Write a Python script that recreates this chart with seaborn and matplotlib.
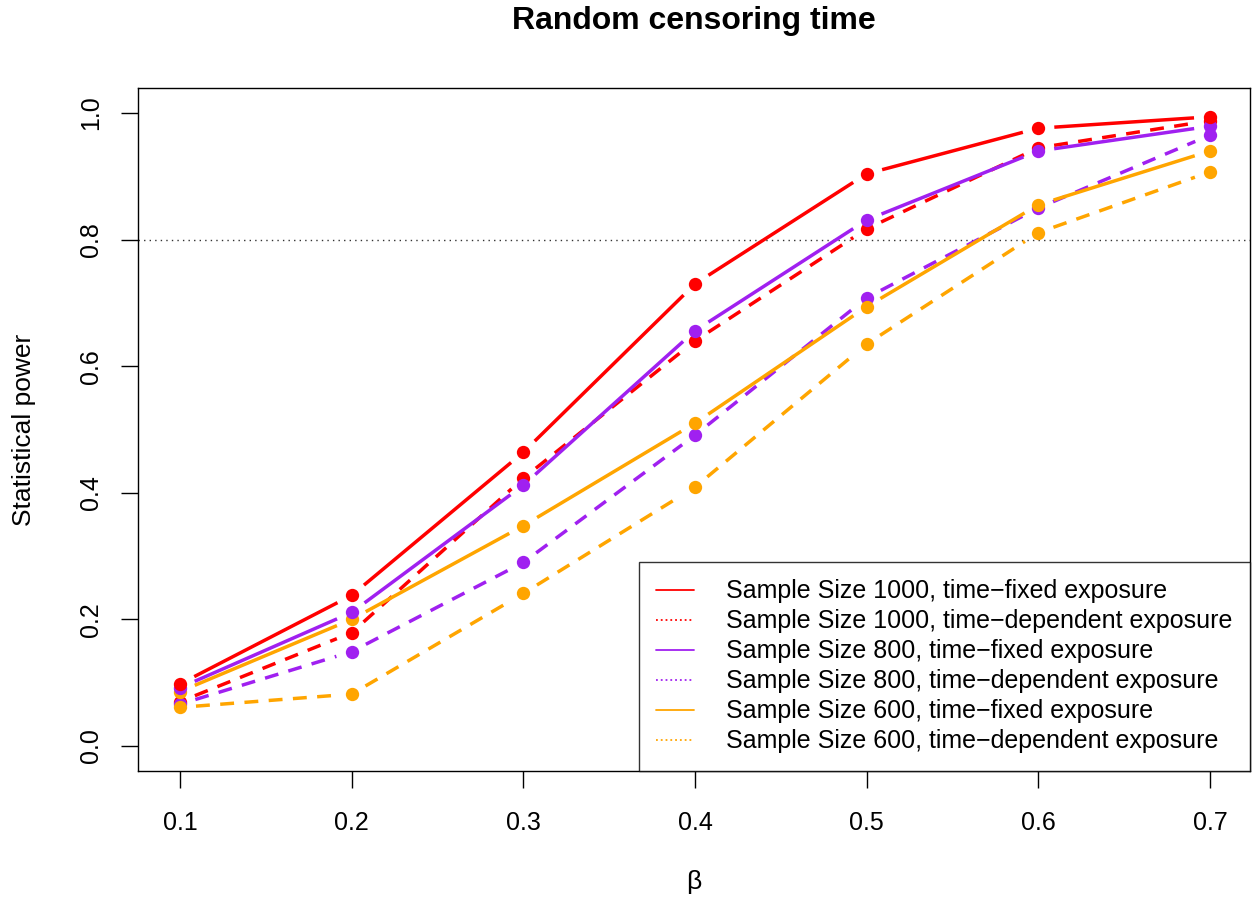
import numpy as np
import pandas as pd
import matplotlib
matplotlib.use("Agg")
import matplotlib.pyplot as plt
from matplotlib.lines import Line2D
import seaborn as sns

# --- data ---
beta = [0.1, 0.2, 0.3, 0.4, 0.5, 0.6, 0.7]
n1000_fixed = [0.098, 0.238, 0.464, 0.730, 0.904, 0.976, 0.994]
n1000_dep   = [0.070, 0.179, 0.423, 0.640, 0.817, 0.945, 0.988]
n800_fixed  = [0.092, 0.211, 0.412, 0.656, 0.831, 0.940, 0.979]
n800_dep    = [0.066, 0.149, 0.290, 0.491, 0.708, 0.850, 0.965]
n600_fixed  = [0.086, 0.200, 0.348, 0.510, 0.694, 0.855, 0.940]
n600_dep    = [0.061, 0.082, 0.241, 0.409, 0.635, 0.811, 0.907]

labels = [
    "Sample Size 1000, time\u2212fixed exposure",
    "Sample Size 1000, time\u2212dependent exposure",
    "Sample Size 800, time\u2212fixed exposure",
    "Sample Size 800, time\u2212dependent exposure",
    "Sample Size 600, time\u2212fixed exposure",
    "Sample Size 600, time\u2212dependent exposure",
]
colors = ["#FF0000", "#FF0000", "#A020F0", "#A020F0", "#FFA500", "#FFA500"]
series = [n1000_fixed, n1000_dep, n800_fixed, n800_dep, n600_fixed, n600_dep]
dashed = [False, True, False, True, False, True]
# draw order: dependent-exposure curves underneath, then 600, 800, 1000 fixed
zorders = [6, 3, 5, 3, 4, 3]

sns.set_style("ticks")
plt.rcParams["font.family"] = ["Liberation Sans", "DejaVu Sans"]
plt.rcParams["text.color"] = "black"
plt.rcParams["axes.labelcolor"] = "black"
plt.rcParams["xtick.color"] = "black"
plt.rcParams["ytick.color"] = "black"

fig = plt.figure(figsize=(12.52, 8.99), dpi=100)
ax = fig.add_axes([0.1102, 0.1424, 0.8882, 0.7597])
ax.set_xlim(0.0755, 0.7233)
ax.set_ylim(-0.0395, 1.0395)

GAP = 16  # px between point centre and line end, like R's type="b"
for vals, col, dsh, z in zip(series, colors, dashed, zorders):
    df = pd.DataFrame({"beta": beta, "power": vals})
    sns.scatterplot(data=df, x="beta", y="power", ax=ax, color=col, s=92,
                    linewidth=0, zorder=z)
    # line segments, shortened at both ends in screen space
    pix = ax.transData.transform(df[["beta", "power"]].to_numpy())
    for p0, p1 in zip(pix[:-1], pix[1:]):
        u = (p1 - p0) / np.hypot(*(p1 - p0))
        seg = ax.transData.inverted().transform([p0 + u * GAP, p1 - u * GAP])
        ax.plot(seg[:, 0], seg[:, 1], color=col, lw=2.5, zorder=z,
                linestyle=(0, (4, 3)) if dsh else "-", solid_capstyle="butt")

ax.axhline(0.8, color="#333333", lw=1, linestyle=(0, (1, 3)), zorder=1)

ax.set_xticks(beta)
ax.set_xticklabels([f"{b:.1f}" for b in beta])
ax.set_yticks([0.0, 0.2, 0.4, 0.6, 0.8, 1.0])
ax.set_yticklabels([f"{v:.1f}" for v in [0.0, 0.2, 0.4, 0.6, 0.8, 1.0]],
                   rotation=90, va="center")
ax.tick_params(labelsize=18, length=12, width=1, color="black")
ax.tick_params(axis="x", pad=17)
ax.tick_params(axis="y", pad=13)
for s in ax.spines.values():
    s.set_visible(True)
    s.set_linewidth(1)
    s.set_color("black")

ax.set_xlabel("\u03b2", fontsize=19)
ax.set_ylabel("Statistical power", fontsize=19)
ax.xaxis.set_label_coords(0.5, -0.1625)
ax.xaxis.label.set_va("center")
ax.yaxis.set_label_coords(-0.1028, 0.5)
ax.yaxis.label.set_va("center")
fig.text(0.5543, 0.977, "Random censoring time", fontsize=23,
         fontweight="bold", ha="center", va="center")

handles = [Line2D([0], [0], color=c, lw=1.3, linestyle=":" if d else "-")
           for c, d in zip(colors, dashed)]
leg = ax.legend(handles, labels, loc="lower right", fontsize=18,
                frameon=True, fancybox=False, edgecolor="black",
                borderaxespad=0, handlelength=1.5, handletextpad=1.3,
                labelspacing=0.24, borderpad=0.7)
leg.get_frame().set_linewidth(1)
leg.set_zorder(10)

fig.savefig("out.png", dpi=100)
